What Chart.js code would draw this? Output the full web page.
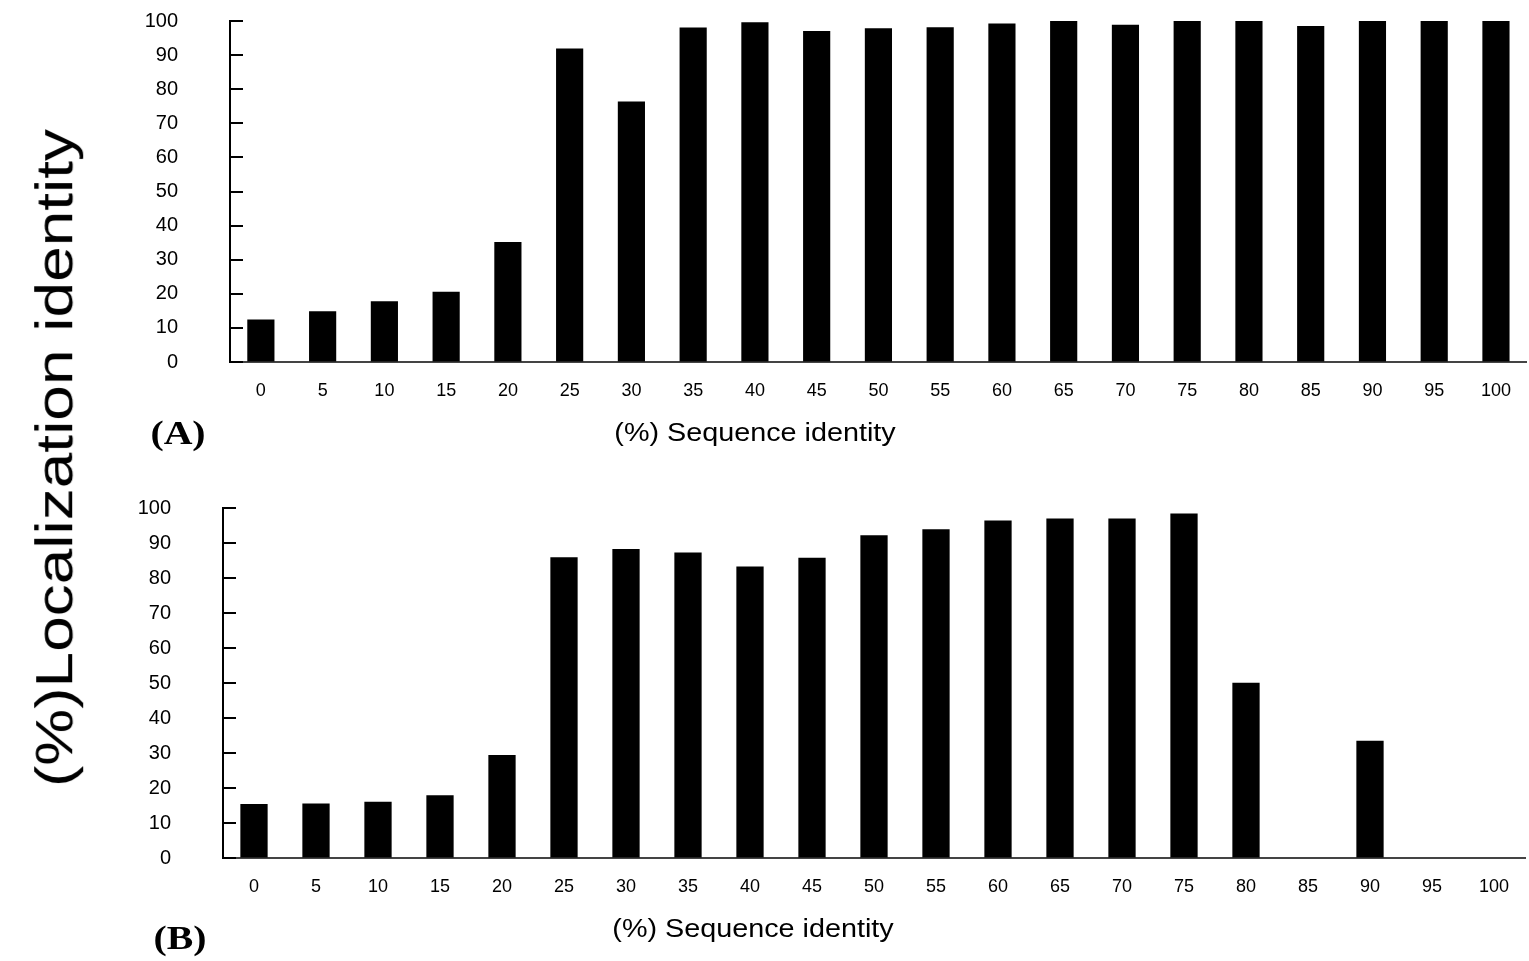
<!DOCTYPE html>
<html>
<head>
<meta charset="utf-8">
<script src="https://cdn.jsdelivr.net/npm/chart.js@4"></script>
<style>
  html, body { margin: 0; padding: 0; background: #fff; }
  body { width: 1529px; height: 961px; position: relative; overflow: hidden; font-family: 'Liberation Sans', Arial, sans-serif; }
  canvas { position: absolute; left: 0; }
  #chartA { top: -43px; }
  #chartB { top: 444px; }
  .lbl { position: absolute; white-space: nowrap; color: #000; }
  .xtitle { font-size: 25px; transform: translate(-50%, -50%) scaleX(1.15); }
  .panel { font-family: 'Liberation Serif', 'Times New Roman', serif; font-weight: bold; font-size: 34px; transform: translate(-50%, -50%) scaleX(1.17); }
  #ylab { left: 55px; top: 458px; font-size: 64px; line-height: 1; transform: translate(-50%, -50%) rotate(-90deg) scale(1, 0.8); }
</style>
</head>
<body>
<canvas id="chartA" width="1529" height="469"></canvas>
<canvas id="chartB" width="1529" height="478"></canvas>
<div class="lbl" id="ylab">(%)Localization identity</div>
<div class="lbl xtitle" style="left:755px; top:432px;">(%) Sequence identity</div>
<div class="lbl xtitle" style="left:753px; top:928px;">(%) Sequence identity</div>
<div class="lbl panel" style="left:178px; top:433px;">(A)</div>
<div class="lbl panel" style="left:180px; top:938px;">(B)</div>
<script>
// sequence identity bins (x axis)
const categories = ['0', '5', '10', '15', '20', '25', '30', '35', '40', '45', '50',
  '55', '60', '65', '70', '75', '80', '85', '90', '95', '100'];

// panel A: localization identity (%)
const valuesA = [12.5, 14.9, 17.8, 20.6, 35.2, 91.9, 76.4, 98.1, 99.6, 97.1, 97.9,
  98.2, 99.3, 100, 98.9, 100, 100, 98.5, 100, 100, 100];

// panel B: localization identity (%)
const valuesB = [15.4, 15.6, 16.1, 17.9, 29.4, 85.9, 88.3, 87.3, 83.3, 85.8, 92.2,
  93.9, 96.4, 97.0, 97.0, 98.4, 50.1, 0, 33.5, 0, 0];

const yMin = 0;
const yMax = 100;
const yStep = 10;

Chart.defaults.font.family = "'Liberation Sans', Arial, sans-serif";
Chart.defaults.color = '#000';

// short tick marks pointing into the plot, like the original figure
const inwardTicks = {
  id: 'inwardTicks',
  afterDatasetsDraw(chart) {
    const y = chart.scales.y;
    const ctx = chart.ctx;
    ctx.save();
    ctx.strokeStyle = '#000';
    ctx.lineWidth = 2;
    y.ticks.forEach((t) => {
      const py = Math.round(y.getPixelForValue(t.value));
      ctx.beginPath();
      ctx.moveTo(y.right, py);
      ctx.lineTo(y.right + 13, py);
      ctx.stroke();
    });
    ctx.restore();
  }
};

function makeChart(id, values, pad) {
  return new Chart(document.getElementById(id), {
    type: 'bar',
    data: {
      labels: categories,
      datasets: [{
        data: values,
        backgroundColor: '#000',
        borderWidth: 0,
        barPercentage: 0.44,
        categoryPercentage: 1.0,
      }],
    },
    options: {
      responsive: false,
      animation: false,
      layout: { padding: pad },
      plugins: { legend: { display: false }, tooltip: { enabled: false } },
      scales: {
        x: {
          offset: true,
          grid: { display: false, drawTicks: false },
          border: { display: true, color: '#444', width: 2 },
          ticks: { font: { size: 18 }, padding: 18, maxRotation: 0, autoSkip: false },
          afterFit: (s) => { s.height = 48; },
        },
        y: {
          min: yMin,
          max: yMax,
          grid: { drawOnChartArea: false, drawTicks: false },
          border: { display: true, color: '#000', width: 2 },
          ticks: { stepSize: yStep, font: { size: 20 }, padding: 52 },
          afterFit: (s) => { s.width = 100; },
        },
      },
    },
    plugins: [inwardTicks],
  });
}

makeChart('chartA', valuesA, { left: 130, right: 1, top: 48, bottom: 0 });
makeChart('chartB', valuesB, { left: 123, right: 4, top: 48, bottom: 0 });
</script>
</body>
</html>
